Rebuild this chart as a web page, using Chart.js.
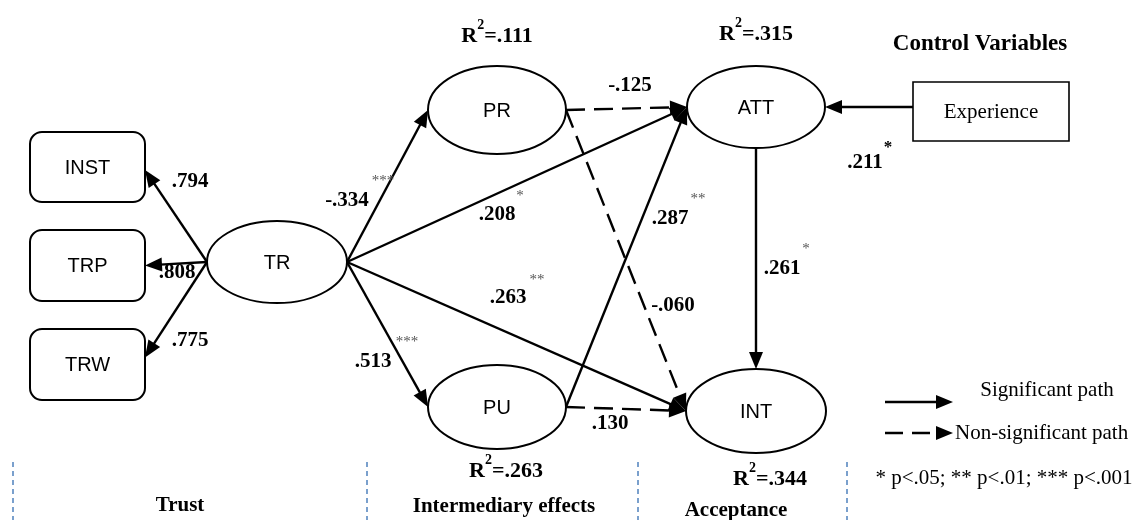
<!DOCTYPE html>
<html>
<head>
<meta charset="utf-8">
<script src="https://cdn.jsdelivr.net/npm/chart.js@4.4.1/dist/chart.umd.min.js"></script>
<style>
  html, body { margin: 0; padding: 0; background: #fff; }
  #wrap { width: 1138px; height: 520px; }
</style>
</head>
<body>
<div id="wrap"><canvas id="pathChart" width="1138" height="520"></canvas></div>
<script>
// ---- model values ----
const nodeNames = ['INST', 'TRP', 'TRW', 'TR', 'PR', 'PU', 'ATT', 'INT', 'Experience'];
const pathFrom = ['TR', 'TR', 'TR', 'TR', 'TR', 'TR', 'TR', 'PR', 'PR', 'PU', 'PU', 'ATT', 'Experience'];
const pathTo   = ['INST', 'TRP', 'TRW', 'PR', 'PU', 'ATT', 'INT', 'ATT', 'INT', 'ATT', 'INT', 'INT', 'ATT'];
const pathCoef = ['.794', '.808', '.775', '-.334', '.513', '.208', '.263', '-.125', '-.060', '.287', '.130', '.261', '.211'];
const pathStars = ['', '', '', '***', '***', '*', '**', '', '', '**', '', '*', '*'];
const pathSignificant = [true, true, true, true, true, true, true, false, false, true, false, true, true];
const r2Nodes = ['PR', 'ATT', 'PU', 'INT'];
const r2Values = ['.111', '.315', '.263', '.344'];
const sectionLabels = ['Trust', 'Intermediary effects', 'Acceptance'];
const legendLabels = ['Significant path', 'Non-significant path'];
const pNote = '* p<.05; ** p<.01; *** p<.001';
const controlTitle = 'Control Variables';

// ---- layout (diagram coordinates = pixels) ----
const layout = {
  INST: { x: 87.5, y: 167, rx: 57.5, ry: 35, shape: 'round', dy: 3 },
  TRP:  { x: 87.5, y: 265.5, rx: 57.5, ry: 35.5, shape: 'round', dy: 0 },
  TRW:  { x: 87.5, y: 364.5, rx: 57.5, ry: 35.5, shape: 'round', dy: -7 },
  TR:   { x: 277, y: 262, rx: 70, ry: 41, shape: 'ellipse' },
  PR:   { x: 497, y: 110, rx: 69, ry: 44, shape: 'ellipse' },
  PU:   { x: 497, y: 407, rx: 69, ry: 42, shape: 'ellipse' },
  ATT:  { x: 756, y: 107, rx: 69, ry: 41, shape: 'ellipse' },
  INT:  { x: 756, y: 411, rx: 70, ry: 42, shape: 'ellipse' },
  Experience: { x: 991, y: 111.5, rx: 78, ry: 29.5, shape: 'rect', dy: -4.5 }
};
const coefPos = [[190, 182], [177, 273], [190, 341], [347, 201], [373, 362], [497, 215], [508, 298],
                 [630, 86], [673, 306], [670, 219], [610, 424], [782, 269], [865, 163]];
const starPos = [null, null, null, [383, 181], [407, 342], [520, 196], [537, 280],
                 null, null, [698, 199], null, [806, 249], [888, 148]];
const r2Pos = [[497, 42], [756, 40], [506, 477], [770, 485]];
const sectionPos = [[180, 506], [504, 507], [736, 511]];
const dividerX = [13, 367, 638, 847];

const SERIF = '"Liberation Serif", "Times New Roman", serif';
const SANS = '"Liberation Sans", Arial, sans-serif';
const ARROW_LEN = 17, ARROW_W = 14;

function port(name, side) {
  const n = layout[name];
  const dy = n.dy || 0;
  if (side === 'left') return [n.x - n.rx, n.y + dy];
  if (side === 'right') return [n.x + n.rx, n.y + dy];
  if (side === 'top') return [n.x, n.y - n.ry];
  return [n.x, n.y + n.ry];
}

function pathEnds(i) {
  const a = layout[pathFrom[i]], b = layout[pathTo[i]];
  if (Math.abs(a.x - b.x) < 1) return [port(pathFrom[i], 'bottom'), port(pathTo[i], 'top')];
  if (b.x < a.x) return [port(pathFrom[i], 'left'), port(pathTo[i], 'right')];
  return [port(pathFrom[i], 'right'), port(pathTo[i], 'left')];
}

function shortened(p1, p2, by) {
  const dx = p2[0] - p1[0], dy = p2[1] - p1[1];
  const L = Math.hypot(dx, dy);
  return [p2[0] - dx / L * by, p2[1] - dy / L * by];
}

const datasets = [];
const arrowHeads = [];
pathFrom.forEach((f, i) => {
  const [p1, p2] = pathEnds(i);
  const e = shortened(p1, p2, ARROW_LEN - 2);
  datasets.push({
    data: [{ x: p1[0], y: p1[1] }, { x: e[0], y: e[1] }],
    showLine: true, borderColor: '#000', borderWidth: 2.4,
    borderDash: pathSignificant[i] ? [] : [19, 9],
    pointRadius: 0, tension: 0
  });
  arrowHeads.push([p1, p2]);
});

// legend sample arrows
const legendY = [402, 433];
const legendX = [885, 953];
legendY.forEach((y, k) => {
  const p1 = [legendX[0], y], p2 = [legendX[1], y];
  const e = shortened(p1, p2, ARROW_LEN - 2);
  datasets.push({
    data: [{ x: p1[0], y: y }, { x: e[0], y: y }],
    showLine: true, borderColor: '#000', borderWidth: 2.4,
    borderDash: k === 0 ? [] : [18, 9],
    pointRadius: 0
  });
  arrowHeads.push([p1, p2]);
});

// section dividers
dividerX.forEach(x => {
  datasets.push({
    data: [{ x: x, y: 462 }, { x: x, y: 520 }],
    showLine: true, borderColor: '#4f81bd', borderWidth: 1.5,
    borderDash: [5, 4], pointRadius: 0
  });
});

const diagramPlugin = {
  id: 'diagram',
  beforeDatasetsDraw(chart) {
    const ctx = chart.ctx, sx = chart.scales.x, sy = chart.scales.y;
    ctx.save();
    nodeNames.forEach(name => {
      const n = layout[name];
      const cx = sx.getPixelForValue(n.x), cy = sy.getPixelForValue(n.y);
      const rx = sx.getPixelForValue(n.x + n.rx) - cx;
      const ry = sy.getPixelForValue(n.y + n.ry) - cy;
      ctx.beginPath();
      if (n.shape === 'ellipse') {
        ctx.ellipse(cx, cy, rx, ry, 0, 0, Math.PI * 2);
        ctx.lineWidth = 2;
      } else if (n.shape === 'round') {
        ctx.roundRect(cx - rx, cy - ry, rx * 2, ry * 2, 12);
        ctx.lineWidth = 2;
      } else {
        ctx.rect(cx - rx, cy - ry, rx * 2, ry * 2);
        ctx.lineWidth = 1.6;
      }
      ctx.fillStyle = '#fff';
      ctx.fill();
      ctx.strokeStyle = '#000';
      ctx.stroke();
    });
    ctx.restore();
  },
  afterDatasetsDraw(chart) {
    const ctx = chart.ctx, sx = chart.scales.x, sy = chart.scales.y;
    const px = (x, y) => [sx.getPixelForValue(x), sy.getPixelForValue(y)];
    ctx.save();
    // arrow heads
    ctx.fillStyle = '#000';
    arrowHeads.forEach(([a, b]) => {
      const [x1, y1] = px(a[0], a[1]), [x2, y2] = px(b[0], b[1]);
      const L = Math.hypot(x2 - x1, y2 - y1);
      const ux = (x2 - x1) / L, uy = (y2 - y1) / L;
      const bx = x2 - ux * ARROW_LEN, by = y2 - uy * ARROW_LEN;
      ctx.beginPath();
      ctx.moveTo(x2, y2);
      ctx.lineTo(bx - uy * ARROW_W / 2, by + ux * ARROW_W / 2);
      ctx.lineTo(bx + uy * ARROW_W / 2, by - ux * ARROW_W / 2);
      ctx.closePath();
      ctx.fill();
    });

    ctx.textAlign = 'center';
    ctx.textBaseline = 'middle';
    // node labels
    nodeNames.forEach(name => {
      const n = layout[name];
      const [x, y] = px(n.x, n.y);
      ctx.font = name === 'Experience' ? '21px ' + SERIF : '20px ' + SANS;
      ctx.fillStyle = '#000';
      ctx.fillText(name, x, y + 1);
    });
    // coefficients
    pathCoef.forEach((c, i) => {
      const [x, y] = px(coefPos[i][0], coefPos[i][1]);
      ctx.font = 'bold 21px ' + SERIF;
      ctx.fillStyle = '#000';
      ctx.fillText(c, x, y);
      if (pathStars[i] && starPos[i]) {
        const [s1, s2] = px(starPos[i][0], starPos[i][1]);
        const strong = pathFrom[i] === 'Experience';
        ctx.font = (strong ? 'bold 17px ' : '15px ') + SERIF;
        ctx.fillStyle = strong ? '#000' : '#555';
        ctx.fillText(pathStars[i], s1, s2);
      }
    });
    // R squared
    ctx.textAlign = 'left';
    ctx.textBaseline = 'alphabetic';
    ctx.fillStyle = '#000';
    r2Nodes.forEach((name, k) => {
      const [cx, base] = px(r2Pos[k][0], r2Pos[k][1]);
      ctx.font = 'bold 22px ' + SERIF;
      const wR = ctx.measureText('R').width;
      const rest = '=' + r2Values[k];
      const wRest = ctx.measureText(rest).width;
      ctx.font = 'bold 14px ' + SERIF;
      const wSup = ctx.measureText('2').width;
      const x = cx - (wR + wSup + wRest) / 2;
      ctx.font = 'bold 22px ' + SERIF;
      ctx.fillText('R', x, base);
      ctx.font = 'bold 14px ' + SERIF;
      ctx.fillText('2', x + wR, base - 13);
      ctx.font = 'bold 22px ' + SERIF;
      ctx.fillText(rest, x + wR + wSup, base);
    });
    // section labels
    ctx.textAlign = 'center';
    ctx.textBaseline = 'middle';
    ctx.font = 'bold 21px ' + SERIF;
    sectionLabels.forEach((s, k) => {
      const [x, y] = px(sectionPos[k][0], sectionPos[k][1]);
      ctx.fillText(s, x, y);
    });
    let t = px(980, 44);
    ctx.font = 'bold 23px ' + SERIF;
    ctx.fillText(controlTitle, t[0], t[1]);
    // legend text
    ctx.font = '21px ' + SERIF;
    t = px(1047, 390);
    ctx.fillText(legendLabels[0], t[0], t[1]);
    ctx.textAlign = 'left';
    t = px(955, 433);
    ctx.fillText(legendLabels[1], t[0], t[1]);
    ctx.textAlign = 'center';
    ctx.font = '21px ' + SERIF;
    t = px(1004, 478);
    ctx.fillText(pNote, t[0], t[1]);
    ctx.restore();
  }
};

new Chart(document.getElementById('pathChart'), {
  type: 'scatter',
  data: { datasets: datasets },
  options: {
    responsive: false,
    animation: false,
    layout: { padding: 0 },
    plugins: { legend: { display: false }, tooltip: { enabled: false } },
    scales: {
      x: { type: 'linear', min: 0, max: 1138, display: false },
      y: { type: 'linear', min: 0, max: 520, reverse: true, display: false }
    }
  },
  plugins: [diagramPlugin]
});
</script>
</body>
</html>
